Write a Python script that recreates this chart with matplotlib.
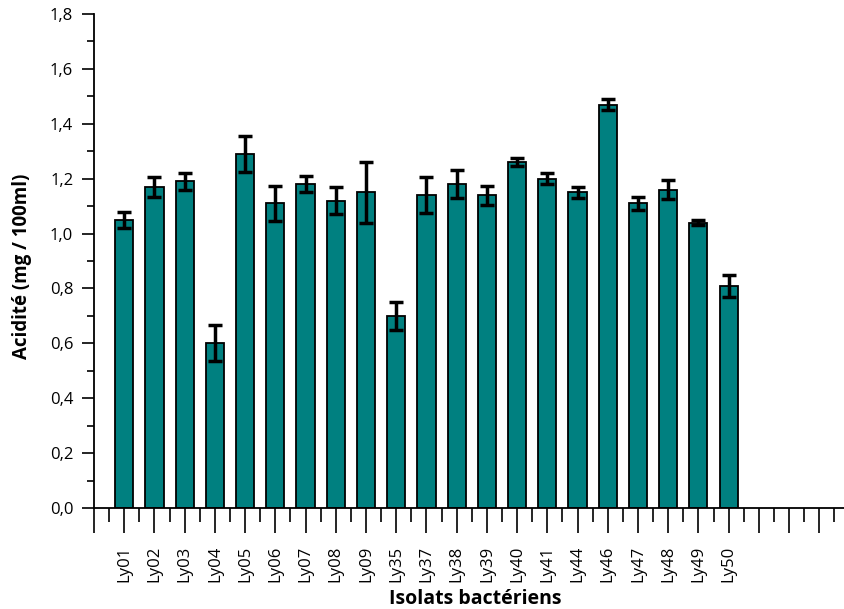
import numpy as np
import matplotlib
matplotlib.use("Agg")
import matplotlib.pyplot as plt
from matplotlib.ticker import FuncFormatter, MultipleLocator

plt.rcParams['font.family'] = ['Open Sans', 'DejaVu Sans']

isolats = ["Ly01", "Ly02", "Ly03", "Ly04", "Ly05", "Ly06", "Ly07", "Ly08", "Ly09",
           "Ly35", "Ly37", "Ly38", "Ly39", "Ly40", "Ly41", "Ly44", "Ly46", "Ly47",
           "Ly48", "Ly49", "Ly50"]
acidite = [1.05, 1.17, 1.19, 0.60, 1.29, 1.11, 1.18, 1.12, 1.15,
           0.70, 1.14, 1.18, 1.14, 1.26, 1.20, 1.15, 1.47, 1.11,
           1.16, 1.04, 0.81]
erreur = [0.03, 0.035, 0.03, 0.065, 0.065, 0.065, 0.03, 0.05, 0.11,
          0.05, 0.065, 0.05, 0.035, 0.015, 0.02, 0.02, 0.02, 0.025,
          0.035, 0.01, 0.04]

x = np.arange(1, len(isolats) + 1)

fig = plt.figure(figsize=(8.45, 6.09), dpi=100)
ax = fig.add_axes([94 / 845, 101 / 609, 751 / 845, 494 / 609])

ax.bar(x, acidite, width=0.6, color="#008080", edgecolor="black", linewidth=1.3, zorder=2)
ax.errorbar(x, acidite, yerr=erreur, fmt="none", ecolor="black", elinewidth=2.5,
            capsize=5, capthick=2.5, zorder=3)

ax.set_xlim(0, 24.85)
ax.set_ylim(0, 1.8)

# ticks: one per isolate, empty slots keep going to the right edge
ax.set_xticks(np.arange(0, 25))
ax.set_xticklabels([""] + isolats + [""] * (24 - len(isolats)), rotation=90)
ax.xaxis.set_minor_locator(MultipleLocator(0.5))
ax.yaxis.set_major_locator(MultipleLocator(0.2))
ax.yaxis.set_minor_locator(MultipleLocator(0.1))
ax.yaxis.set_major_formatter(FuncFormatter(lambda v, p: f"{v:.1f}".replace(".", ",")))

ax.tick_params(axis="x", which="major", length=18, width=1.2, direction="out", pad=9, labelsize=12)
ax.tick_params(axis="x", which="minor", length=10, width=1.2, direction="out")
ax.tick_params(axis="y", which="major", length=9, width=1.2, direction="out", pad=6, labelsize=12)
ax.tick_params(axis="y", which="minor", length=5, width=1.2, direction="out")

for side in ["top", "right"]:
    ax.spines[side].set_visible(False)
for side in ["left", "bottom"]:
    ax.spines[side].set_linewidth(1.3)

ax.set_xlabel("Isolats bactériens", fontsize=14, fontweight="bold")
ax.set_ylabel("Acidité (mg / 100ml)", fontsize=13.5, fontweight="bold")
ax.xaxis.set_label_coords(0.507, -0.163)
ax.yaxis.set_label_coords(-0.083, 0.49)

fig.savefig("out.png", dpi=100)
